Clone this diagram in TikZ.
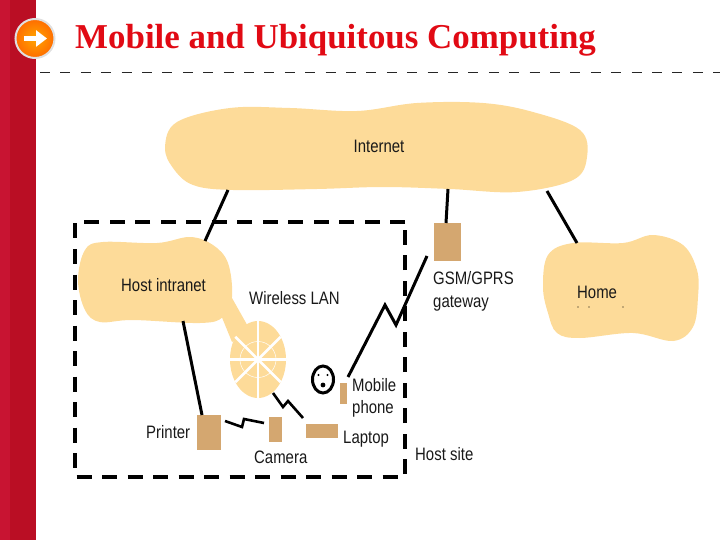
\documentclass[tikz,border=0pt]{standalone}
\usepackage{fontspec}
\setmainfont{Liberation Sans}
\newfontfamily\titlefont{Liberation Serif}
\newfontfamily\capfont[FakeStretch=0.83]{Liberation Sans}
\usetikzlibrary{calc,arrows.meta,shapes.geometric}
\definecolor{barred}{RGB}{186,14,36}
\definecolor{barlight}{RGB}{200,20,50}
\definecolor{cloudfill}{RGB}{253,219,153}
\definecolor{boxfill}{RGB}{212,167,112}
\definecolor{titlered}{RGB}{225,10,20}
\tikzset{
x=1pt,y=-1pt,
unitbox/.style={fill=boxfill,inner sep=0pt,outer sep=0pt},
caption/.style={font=\capfont\fontsize{18}{20}\selectfont,text=black!90,inner sep=0pt,align=left},
netcloud/.style={fill=cloudfill,draw=none},
link/.style={line width=3pt,black},
}
\begin{document}
\begin{tikzpicture}

%%%%%%%%%%%%%%%%%%%%%%%%%%%%%%%%%%%%%%%%%%%%%%%%%%%%%%%%%%
% SLIDE
%%%%%%%%%%%%%%%%%%%%%%%%%%%%%%%%%%%%%%%%%%%%%%%%%%%%%%%%%%

\useasboundingbox (0,0) rectangle (720,540);
\fill[barred] (0,0) rectangle (36,540);
\fill[barlight] (0,0) rectangle (10,540);

\node[
circle,
draw=black!12,
line width=2pt,
shading=radial,
inner color=orange!70!yellow,
outer color=orange!85!red,
minimum size=39pt,
inner sep=0pt
](bullet) at (35,38.5){};
\draw[white,line width=5pt,-{Triangle[width=16pt,length=11pt]}]
(24,38.5)--(47,38.5);

\node[
anchor=west,
inner sep=0pt,
text=titlered,
font=\titlefont\bfseries\fontsize{34.9}{37}\selectfont
](title) at (75,40){Mobile and Ubiquitous Computing};

\draw[black!85,line width=1pt,dash pattern=on 10pt off 10.4pt] (40,73)--(720,73);

%%%%%%%%%%%%%%%%%%%%%%%%%%%%%%%%%%%%%%%%%%%%%%%%%%%%%%%%%%
% CLOUDS
%%%%%%%%%%%%%%%%%%%%%%%%%%%%%%%%%%%%%%%%%%%%%%%%%%%%%%%%%%

\fill[netcloud] plot[smooth cycle,tension=0.6] coordinates {
(165,147)(177,122)(230,108)(290,108)(357,111)(417,103)(483,103)(533,112)
(580,130)(587,157)(573,180)(517,192)(450,189)(383,187)(317,189)(233,190)(193,185)(173,168)};

\fill[netcloud] plot[smooth cycle,tension=0.6] coordinates {
(78,280)(85,250)(103,242)(157,243)(190,237)(213,245)(228,263)(232,297)
(223,317)(200,323)(133,320)(100,322)(85,310)};

\fill[netcloud] plot[smooth cycle,tension=0.6] coordinates {
(543,287)(548,255)(573,243)(623,243)(653,235)(683,245)(697,270)(698,297)
(693,327)(673,341)(633,333)(580,338)(557,333)(548,313)};

%%%%%%%%%%%%%%%%%%%%%%%%%%%%%%%%%%%%%%%%%%%%%%%%%%%%%%%%%%
% WIRELESS LAN
%%%%%%%%%%%%%%%%%%%%%%%%%%%%%%%%%%%%%%%%%%%%%%%%%%%%%%%%%%

\fill[cloudfill] (221,315)--(232,298)--(250,330)--(232,342)--cycle;

\node[
ellipse,
fill=cloudfill,
minimum width=56pt,
minimum height=77pt,
inner sep=0pt
](wlan) at (258,359.5){};

\draw[white,line width=0.5pt] (wlan) circle (18);
\foreach \ang/\len in {0/28,45/32,90/39,135/32}{
\draw[white,line width=2.5pt] ($(wlan)+(\ang:\len)$)--($(wlan)+(\ang+180:\len)$);
}

%%%%%%%%%%%%%%%%%%%%%%%%%%%%%%%%%%%%%%%%%%%%%%%%%%%%%%%%%%
% HOST SITE
%%%%%%%%%%%%%%%%%%%%%%%%%%%%%%%%%%%%%%%%%%%%%%%%%%%%%%%%%%

\draw[line width=3.6pt,dash pattern=on 15pt off 10.5pt]
(405,222)--(75,222)--(75,477)--(405,477)--cycle;

%%%%%%%%%%%%%%%%%%%%%%%%%%%%%%%%%%%%%%%%%%%%%%%%%%%%%%%%%%
% DEVICES
%%%%%%%%%%%%%%%%%%%%%%%%%%%%%%%%%%%%%%%%%%%%%%%%%%%%%%%%%%

\node[unitbox,minimum width=27pt,minimum height=38pt](gateway) at (447.5,242){};
\node[unitbox,minimum width=24pt,minimum height=35pt](printer) at (209,432.5){};
\node[unitbox,minimum width=13pt,minimum height=25pt](camera) at (275.5,429.5){};
\node[unitbox,minimum width=32pt,minimum height=14pt](laptop) at (322,431){};
\node[unitbox,minimum width=7pt,minimum height=21pt](phone) at (343.5,393.5){};

\node[
ellipse,
draw,
line width=3pt,
minimum width=21pt,
minimum height=27pt,
inner sep=0pt
](user) at (323,379.5){};
\fill (318.5,375) circle (1.2);
\fill (327.5,375) circle (1.2);
\fill (323,385) circle (2.4);

%%%%%%%%%%%%%%%%%%%%%%%%%%%%%%%%%%%%%%%%%%%%%%%%%%%%%%%%%%
% LABELS
%%%%%%%%%%%%%%%%%%%%%%%%%%%%%%%%%%%%%%%%%%%%%%%%%%%%%%%%%%

\node[caption](internet) at (379,146){Internet};
\node[caption,anchor=west](intranet) at (121,285){Host intranet};
\node[caption,anchor=west](lanlabel) at (249,298){Wireless LAN};
\node[caption,anchor=west](gsm) at (433,291){GSM/GPRS\\[3pt]gateway};
\node[caption,anchor=west](home) at (577,292){Home};
\node[caption,anchor=west](phonelabel) at (352,398){Mobile\\[2pt]phone};
\node[caption,anchor=west](printerlabel) at (146,432){Printer};
\node[caption,anchor=west](cameralabel) at (254,457){Camera};
\node[caption,anchor=west](laptoplabel) at (343,439){Laptop};
\node[caption,anchor=west](hostlabel) at (415,454){Host site};

\foreach \speck in {578,589,623}{
\fill (\speck,307) circle (0.6);
}

%%%%%%%%%%%%%%%%%%%%%%%%%%%%%%%%%%%%%%%%%%%%%%%%%%%%%%%%%%
% CONNECTIONS
%%%%%%%%%%%%%%%%%%%%%%%%%%%%%%%%%%%%%%%%%%%%%%%%%%%%%%%%%%

\coordinate (netA) at (228,190);
\coordinate (intA) at (205,241);
\coordinate (netB) at (448,189);
\coordinate (netC) at (547,191);
\coordinate (homeA) at (577,243);
\coordinate (intB) at (183,321);
\coordinate (prnB) at (202,415);
\coordinate (mobA) at (348,377);
\coordinate (gateA) at (427,256);
\coordinate (prnA) at (225,421);
\coordinate (camA) at (264,423);
\coordinate (lanA) at (273,393);
\coordinate (lapA) at (303,418);

\draw[link] (netA)--(intA);
\draw[link] (netB)--(446,223);
\draw[link] (netC)--(homeA);
\draw[link] (intB)--(prnB);
\draw[link,line join=miter] (mobA)--(385,305)--(396,325)--(gateA);
\draw[link,line width=2.6pt] (prnA)--(242,427)--(244,419)--(camA);
\draw[link,line width=2.6pt] (lanA)--(283,407)--(288,401)--(lapA);

\end{tikzpicture}
\end{document}
